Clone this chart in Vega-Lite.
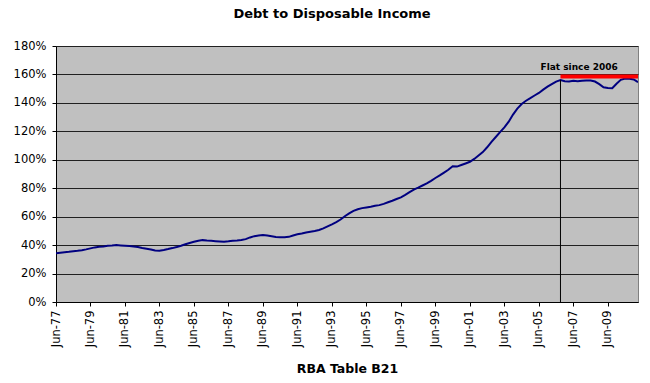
{
  "$schema": "https://vega.github.io/schema/vega-lite/v6.json",
  "autosize": "none",
  "width": 582,
  "height": 256,
  "padding": {"left": 56, "top": 46, "right": 12, "bottom": 81},
  "background": "white",
  "title": {"text": "Debt to Disposable Income", "font": "DejaVu Sans", "fontSize": 13, "fontWeight": "bold", "color": "black", "anchor": "middle", "dx": -15, "offset": 19},
  "config": {
    "view": {"fill": "#C0C0C0", "stroke": "#808080", "strokeWidth": 1},
    "axis": {"labelFont": "DejaVu Sans", "labelFontSize": 11.5, "labelColor": "black", "titleFont": "DejaVu Sans", "titleColor": "black", "domainColor": "black", "tickColor": "black", "tickSize": 4, "labelOverlap": false, "labelBound": false, "labelFlush": false}
  },
  "data": {"values": [
    {"date": "1977-06-01T00:00", "v": 34.2}, {"date": "1977-09-01T00:00", "v": 34.6}, {"date": "1977-12-01T00:00", "v": 35.0}, {"date": "1978-03-01T00:00", "v": 35.3},
    {"date": "1978-06-01T00:00", "v": 35.7}, {"date": "1978-09-01T00:00", "v": 36.0}, {"date": "1978-12-01T00:00", "v": 36.4}, {"date": "1979-03-01T00:00", "v": 37.0},
    {"date": "1979-06-01T00:00", "v": 37.7}, {"date": "1979-09-01T00:00", "v": 38.4}, {"date": "1979-12-01T00:00", "v": 38.8}, {"date": "1980-03-01T00:00", "v": 39.1},
    {"date": "1980-06-01T00:00", "v": 39.5}, {"date": "1980-09-01T00:00", "v": 39.7}, {"date": "1980-12-01T00:00", "v": 40.0}, {"date": "1981-03-01T00:00", "v": 39.8},
    {"date": "1981-06-01T00:00", "v": 39.6}, {"date": "1981-09-01T00:00", "v": 39.4}, {"date": "1981-12-01T00:00", "v": 39.1}, {"date": "1982-03-01T00:00", "v": 38.6},
    {"date": "1982-06-01T00:00", "v": 38.0}, {"date": "1982-09-01T00:00", "v": 37.5}, {"date": "1982-12-01T00:00", "v": 36.9}, {"date": "1983-03-01T00:00", "v": 36.2},
    {"date": "1983-06-01T00:00", "v": 36.1}, {"date": "1983-09-01T00:00", "v": 36.6}, {"date": "1983-12-01T00:00", "v": 37.2}, {"date": "1984-03-01T00:00", "v": 37.9},
    {"date": "1984-06-01T00:00", "v": 38.7}, {"date": "1984-09-01T00:00", "v": 39.6}, {"date": "1984-12-01T00:00", "v": 40.6}, {"date": "1985-03-01T00:00", "v": 41.5},
    {"date": "1985-06-01T00:00", "v": 42.3}, {"date": "1985-09-01T00:00", "v": 43.0}, {"date": "1985-12-01T00:00", "v": 43.5}, {"date": "1986-03-01T00:00", "v": 43.2},
    {"date": "1986-06-01T00:00", "v": 43.0}, {"date": "1986-09-01T00:00", "v": 42.8}, {"date": "1986-12-01T00:00", "v": 42.6}, {"date": "1987-03-01T00:00", "v": 42.4},
    {"date": "1987-06-01T00:00", "v": 42.7}, {"date": "1987-09-01T00:00", "v": 43.1}, {"date": "1987-12-01T00:00", "v": 43.3}, {"date": "1988-03-01T00:00", "v": 43.6},
    {"date": "1988-06-01T00:00", "v": 44.2}, {"date": "1988-09-01T00:00", "v": 45.4}, {"date": "1988-12-01T00:00", "v": 46.3}, {"date": "1989-03-01T00:00", "v": 46.8},
    {"date": "1989-06-01T00:00", "v": 47.1}, {"date": "1989-09-01T00:00", "v": 46.7}, {"date": "1989-12-01T00:00", "v": 46.2}, {"date": "1990-03-01T00:00", "v": 45.7},
    {"date": "1990-06-01T00:00", "v": 45.5}, {"date": "1990-09-01T00:00", "v": 45.5}, {"date": "1990-12-01T00:00", "v": 45.8}, {"date": "1991-03-01T00:00", "v": 46.8},
    {"date": "1991-06-01T00:00", "v": 47.6}, {"date": "1991-09-01T00:00", "v": 48.2}, {"date": "1991-12-01T00:00", "v": 48.9}, {"date": "1992-03-01T00:00", "v": 49.4},
    {"date": "1992-06-01T00:00", "v": 49.9}, {"date": "1992-09-01T00:00", "v": 50.6}, {"date": "1992-12-01T00:00", "v": 51.8}, {"date": "1993-03-01T00:00", "v": 53.2},
    {"date": "1993-06-01T00:00", "v": 54.6}, {"date": "1993-09-01T00:00", "v": 56.2}, {"date": "1993-12-01T00:00", "v": 58.0}, {"date": "1994-03-01T00:00", "v": 60.3},
    {"date": "1994-06-01T00:00", "v": 62.3}, {"date": "1994-09-01T00:00", "v": 64.1}, {"date": "1994-12-01T00:00", "v": 65.2}, {"date": "1995-03-01T00:00", "v": 66.0},
    {"date": "1995-06-01T00:00", "v": 66.5}, {"date": "1995-09-01T00:00", "v": 67.0}, {"date": "1995-12-01T00:00", "v": 67.6}, {"date": "1996-03-01T00:00", "v": 68.1},
    {"date": "1996-06-01T00:00", "v": 69.0}, {"date": "1996-09-01T00:00", "v": 70.1}, {"date": "1996-12-01T00:00", "v": 71.2}, {"date": "1997-03-01T00:00", "v": 72.4},
    {"date": "1997-06-01T00:00", "v": 73.6}, {"date": "1997-09-01T00:00", "v": 75.3}, {"date": "1997-12-01T00:00", "v": 77.2}, {"date": "1998-03-01T00:00", "v": 79.0},
    {"date": "1998-06-01T00:00", "v": 80.4}, {"date": "1998-09-01T00:00", "v": 81.9}, {"date": "1998-12-01T00:00", "v": 83.4}, {"date": "1999-03-01T00:00", "v": 85.2},
    {"date": "1999-06-01T00:00", "v": 87.2}, {"date": "1999-09-01T00:00", "v": 89.0}, {"date": "1999-12-01T00:00", "v": 91.0}, {"date": "2000-03-01T00:00", "v": 93.0},
    {"date": "2000-06-01T00:00", "v": 95.5}, {"date": "2000-09-01T00:00", "v": 95.2}, {"date": "2000-12-01T00:00", "v": 96.3}, {"date": "2001-03-01T00:00", "v": 97.4},
    {"date": "2001-06-01T00:00", "v": 98.6}, {"date": "2001-09-01T00:00", "v": 100.6}, {"date": "2001-12-01T00:00", "v": 103.0}, {"date": "2002-03-01T00:00", "v": 105.4},
    {"date": "2002-06-01T00:00", "v": 108.8}, {"date": "2002-09-01T00:00", "v": 112.6}, {"date": "2002-12-01T00:00", "v": 116.0}, {"date": "2003-03-01T00:00", "v": 119.5},
    {"date": "2003-06-01T00:00", "v": 122.8}, {"date": "2003-09-01T00:00", "v": 126.8}, {"date": "2003-12-01T00:00", "v": 131.8}, {"date": "2004-03-01T00:00", "v": 136.0},
    {"date": "2004-06-01T00:00", "v": 139.2}, {"date": "2004-09-01T00:00", "v": 141.5}, {"date": "2004-12-01T00:00", "v": 143.3}, {"date": "2005-03-01T00:00", "v": 145.2},
    {"date": "2005-06-01T00:00", "v": 147.0}, {"date": "2005-09-01T00:00", "v": 149.3}, {"date": "2005-12-01T00:00", "v": 151.4}, {"date": "2006-03-01T00:00", "v": 153.2},
    {"date": "2006-06-01T00:00", "v": 155.0}, {"date": "2006-09-01T00:00", "v": 156.0}, {"date": "2006-12-01T00:00", "v": 155.2}, {"date": "2007-03-01T00:00", "v": 155.0},
    {"date": "2007-06-01T00:00", "v": 155.5}, {"date": "2007-09-01T00:00", "v": 155.3}, {"date": "2007-12-01T00:00", "v": 155.6}, {"date": "2008-03-01T00:00", "v": 155.8},
    {"date": "2008-06-01T00:00", "v": 155.7}, {"date": "2008-09-01T00:00", "v": 155.0}, {"date": "2008-12-01T00:00", "v": 153.2}, {"date": "2009-03-01T00:00", "v": 151.0},
    {"date": "2009-06-01T00:00", "v": 150.4}, {"date": "2009-09-01T00:00", "v": 150.3}, {"date": "2009-12-01T00:00", "v": 153.5}, {"date": "2010-03-01T00:00", "v": 156.2},
    {"date": "2010-06-01T00:00", "v": 157.2}, {"date": "2010-09-01T00:00", "v": 157.0}, {"date": "2010-12-01T00:00", "v": 156.5}, {"date": "2011-03-01T00:00", "v": 154.5}
  ]},
  "layer": [
    {
      "mark": {"type": "line", "color": "#000080", "strokeWidth": 2, "clip": true},
      "encoding": {
        "x": {"field": "date", "type": "temporal",
              "scale": {"domain": [{"year": 1977, "month": 6, "date": 1}, {"year": 2011, "month": 3, "date": 1}]},
              "axis": {"title": "RBA Table B21", "titleFontSize": 12.5, "titleFontWeight": "bold", "titlePadding": 16,
                       "grid": false, "format": "%b-%y", "labelAngle": -90, "labelPadding": 4, "tickCount": 40,
                       "values": [
                         {"year": 1977, "month": 6, "date": 1}, {"year": 1979, "month": 6, "date": 1}, {"year": 1981, "month": 6, "date": 1},
                         {"year": 1983, "month": 6, "date": 1}, {"year": 1985, "month": 6, "date": 1}, {"year": 1987, "month": 6, "date": 1},
                         {"year": 1989, "month": 6, "date": 1}, {"year": 1991, "month": 6, "date": 1}, {"year": 1993, "month": 6, "date": 1},
                         {"year": 1995, "month": 6, "date": 1}, {"year": 1997, "month": 6, "date": 1}, {"year": 1999, "month": 6, "date": 1},
                         {"year": 2001, "month": 6, "date": 1}, {"year": 2003, "month": 6, "date": 1}, {"year": 2005, "month": 6, "date": 1},
                         {"year": 2007, "month": 6, "date": 1}, {"year": 2009, "month": 6, "date": 1}
                       ]}},
        "y": {"field": "v", "type": "quantitative",
              "scale": {"domain": [0, 180], "nice": false},
              "axis": {"title": null, "values": [0, 20, 40, 60, 80, 100, 120, 140, 160, 180], "labelExpr": "datum.value + '%'", "tickCount": 20,
                       "grid": true, "gridColor": "#202020", "gridWidth": 1, "labelPadding": 6}}
      }
    },
    {
      "data": {"values": [{"date": "2006-09-01T00:00", "lo": 0, "hi": 156}]},
      "mark": {"type": "rule", "color": "black", "strokeWidth": 1},
      "encoding": {
        "x": {"field": "date", "type": "temporal"},
        "y": {"field": "lo", "type": "quantitative"},
        "y2": {"field": "hi"}
      }
    },
    {
      "data": {"values": [{"start": "2006-09-01T00:00", "end": "2011-03-01T00:00", "level": 158.6}]},
      "mark": {"type": "rule", "color": "#FF0000", "strokeWidth": 4},
      "encoding": {
        "x": {"field": "start", "type": "temporal"},
        "x2": {"field": "end"},
        "y": {"field": "level", "type": "quantitative"}
      }
    },
    {
      "data": {"values": [{"date": "2007-10-01T00:00", "level": 165, "label": "Flat since 2006"}]},
      "mark": {"type": "text", "font": "DejaVu Sans", "fontSize": 9, "fontWeight": "bold", "color": "black", "align": "center", "baseline": "middle"},
      "encoding": {
        "x": {"field": "date", "type": "temporal"},
        "y": {"field": "level", "type": "quantitative"},
        "text": {"field": "label"}
      }
    }
  ]
}
